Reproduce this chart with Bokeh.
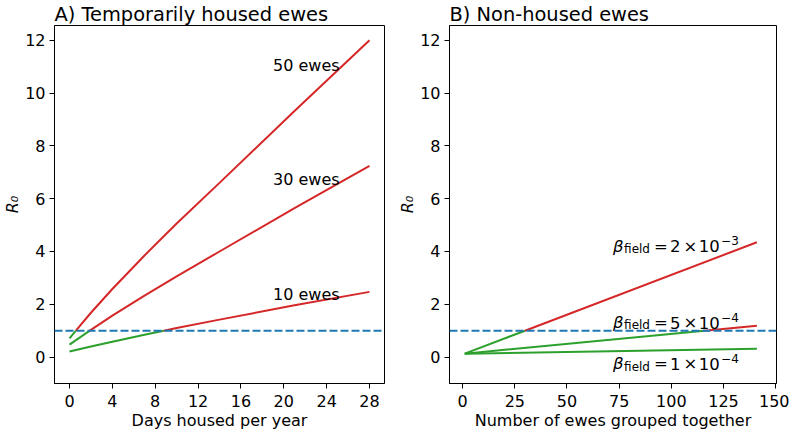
import numpy as np
from bokeh.plotting import figure
from bokeh.layouts import row
from bokeh.models import Span, FixedTicker, Range1d, ColumnDataSource
from bokeh.core.properties import value
from bokeh.embed import file_html
from bokeh.resources import INLINE

# ---------------- data ----------------
days = [0, 2, 4, 7, 10, 14, 21, 28]
r0_10_ewes = [0.21, 0.40, 0.58, 0.85, 1.10, 1.42, 1.96, 2.47]
r0_30_ewes = [0.47, 1.03, 1.57, 2.33, 3.06, 4.00, 5.64, 7.24]
r0_50_ewes = [0.71, 1.68, 2.58, 3.85, 5.06, 6.60, 9.32, 12.00]
ewe_labels = ["10 ewes", "30 ewes", "50 ewes"]

n_ewes = [1, 141]
r0_beta_2e3 = [0.13, 4.35]
r0_beta_5e4 = [0.13, 1.19]
r0_beta_1e4 = [0.13, 0.32]
beta_mantissa = ["2", "5", "1"]
beta_exponent = ["\u22123", "\u22124", "\u22124"]

threshold = 1.0
x_ticks_a = [0, 4, 8, 12, 16, 20, 24, 28]
x_ticks_b = [0, 25, 50, 75, 100, 125, 150]
y_ticks = [0, 2, 4, 6, 8, 10, 12]

# ---------------- annotation anchors (layout) ----------------
ewe_label_x = 19
ewe_label_y = [2.38, 6.73, 11.06]
beta_label_x = 72
beta_label_y = [4.19, 1.31, -0.26]

RED = "#d62728"
GREEN = "#2ca02c"
BLUE = "#1f77b4"
FONT = "DejaVu Sans"


def split(xs, ys, thr):
    xs = [float(v) for v in xs]
    ys = [float(v) for v in ys]
    if ys[0] >= thr:
        return [], [], xs, ys
    k = None
    for i, v in enumerate(ys):
        if v >= thr:
            k = i
            break
    if k is None:
        return xs, ys, [], []
    xc = xs[k - 1] + (thr - ys[k - 1]) * (xs[k] - xs[k - 1]) / (ys[k] - ys[k - 1])
    return xs[:k] + [xc], ys[:k] + [thr], [xc] + xs[k:], [thr] + ys[k:]


def style(p, xticks):
    p.xaxis.ticker = FixedTicker(ticks=xticks)
    p.yaxis.ticker = FixedTicker(ticks=y_ticks)
    for ax in [p.xaxis[0], p.yaxis[0]]:
        ax.major_label_text_font = FONT
        ax.major_label_text_font_size = "16px"
        ax.major_label_text_color = "black"
        ax.axis_label_text_font = FONT
        ax.axis_label_text_font_size = "16px"
        ax.axis_label_text_color = "black"
        ax.axis_label_text_font_style = "normal"
        ax.minor_tick_line_color = None
        ax.major_tick_in = 0
        ax.major_tick_out = 5
        ax.major_label_standoff = 4
        ax.axis_label_standoff = 0
        ax.axis_line_color = "black"
        ax.major_tick_line_color = "black"
    p.xaxis.major_label_standoff = 6
    p.xaxis.axis_label_standoff = 1
    p.yaxis.axis_label_text_font_style = "italic"
    p.grid.visible = False
    p.outline_line_color = "black"
    p.outline_line_alpha = 1.0
    p.outline_line_width = 1
    p.title.text_font = FONT
    p.title.text_font_size = "19.4px"
    p.title.text_font_style = "normal"
    p.title.text_color = "black"
    p.title.standoff = 0
    p.title.align = "left"
    p.add_layout(Span(location=threshold, dimension="width", line_color=BLUE,
                      line_width=2, line_dash="8 3"))


def draw_split(p, xs, ys):
    gx, gy, rx, ry = split(xs, ys, threshold)
    if gx:
        p.line(gx, gy, line_color=GREEN, line_width=2)
    if rx:
        p.line(rx, ry, line_color=RED, line_width=2)


# ---------------- panel A ----------------
pa = figure(frame_width=330, frame_height=358, output_backend="svg", toolbar_location=None,
            title="A) Temporarily housed ewes",
            x_range=Range1d(-1.4, 29.4), y_range=Range1d(-1.0, 12.56),
            x_axis_label="Days housed per year", y_axis_label="R\u2080",
            min_border_left=49, min_border_right=11, min_border_top=0,
            min_border_bottom=0)
style(pa, x_ticks_a)
for series in [r0_10_ewes, r0_30_ewes, r0_50_ewes]:
    draw_split(pa, days, series)
pa.text(x=[ewe_label_x] * 3, y=ewe_label_y, text=ewe_labels,
        text_font=value(FONT), text_font_size="16px", text_color="black",
        text_baseline="alphabetic", text_align="left")

# ---------------- panel B ----------------
pb = figure(frame_width=327, frame_height=358, output_backend="svg", toolbar_location=None,
            title="B) Non-housed ewes",
            x_range=Range1d(-6.3, 150.4), y_range=Range1d(-1.0, 12.56),
            x_axis_label="Number of ewes grouped together", y_axis_label="R\u2080",
            min_border_left=54, min_border_right=13, min_border_top=0,
            min_border_bottom=0)
style(pb, x_ticks_b)
for series in [r0_beta_2e3, r0_beta_5e4, r0_beta_1e4]:
    draw_split(pb, n_ewes, series)

# composite math-like labels: beta_field = m x 10^e
piece_dx = [0, 11.2, 41.0, 57.2, 70.6, 85.9, 108.2]
piece_dy = [0, 2.7, 0, 0, 0, 0, -5.5]
piece_size = ["16.5px", "12px", "16.5px", "16.5px", "16.5px", "16.5px", "12px"]
piece_style = ["italic", "normal", "normal", "normal", "normal", "normal", "normal"]
xs, ys, txt, dxs, dys, sz, st = [], [], [], [], [], [], []
for i in range(3):
    pieces = ["\u03b2", "field", "=", beta_mantissa[i], "\u00d7", "10", beta_exponent[i]]
    for j, t in enumerate(pieces):
        xs.append(beta_label_x)
        ys.append(beta_label_y[i])
        txt.append(t)
        dxs.append(piece_dx[j])
        dys.append(piece_dy[j])
        sz.append(piece_size[j])
        st.append(piece_style[j])
src = ColumnDataSource(dict(x=xs, y=ys, text=txt, dx=dxs, dy=dys, size=sz, style=st))
pb.text(x="x", y="y", text="text", x_offset="dx", y_offset="dy",
        text_font_size="size", text_font_style="style", source=src,
        text_font=value(FONT), text_color="black", text_baseline="alphabetic",
        text_align="left")

layout = row(pa, pb)
open("out.html", "w").write(file_html(layout, INLINE))
